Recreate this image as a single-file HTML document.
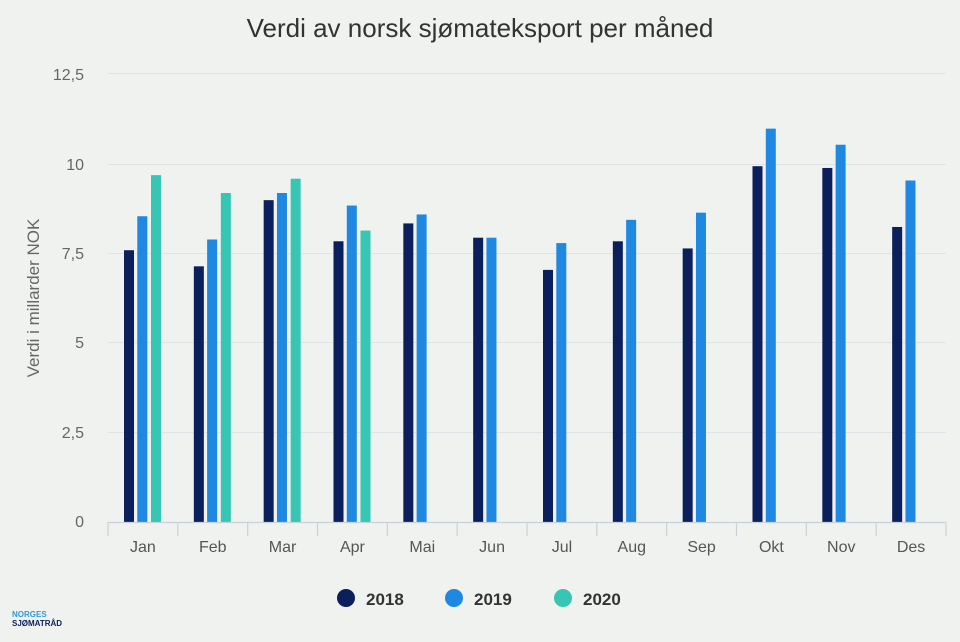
<!DOCTYPE html>
<html><head><meta charset="utf-8"><style>
html,body{margin:0;padding:0;background:#f0f2f0;}
svg{display:block;font-family:"Liberation Sans",Arial,sans-serif;}
</style></head><body>
<svg width="960" height="642" viewBox="0 0 960 642" xmlns="http://www.w3.org/2000/svg">
<rect width="960" height="642" fill="#f0f2f0"/>
<text x="480" y="37" text-anchor="middle" font-size="26" fill="#333">Verdi av norsk sjømateksport per måned</text>
<g stroke="#e0e3e3" stroke-width="1">
<line x1="108" x2="946" y1="73.5" y2="73.5"/>
<line x1="108" x2="946" y1="164.5" y2="164.5"/>
<line x1="108" x2="946" y1="253.5" y2="253.5"/>
<line x1="108" x2="946" y1="342.5" y2="342.5"/>
<line x1="108" x2="946" y1="432.5" y2="432.5"/>
</g>
<g font-size="16" fill="#666" text-anchor="end">
<text x="84" y="80">12,5</text>
<text x="84" y="170">10</text>
<text x="84" y="259">7,5</text>
<text x="84" y="348">5</text>
<text x="84" y="438">2,5</text>
<text x="84" y="527">0</text>
</g>
<text transform="translate(39,298) rotate(-90)" text-anchor="middle" font-size="17" fill="#666">Verdi i millarder NOK</text>
<g id="bars"></g>
<g stroke="#c8d0d8" stroke-width="1.2" id="axis">
<line x1="108" x2="946" y1="522.5" y2="522.5"/>
</g>
<g id="lbl" font-size="16" fill="#555" text-anchor="middle"></g>
<circle cx="346" cy="598" r="9" fill="#0b1f5c"/>
<text x="366" y="605" font-size="17" font-weight="bold" fill="#333">2018</text>
<circle cx="454" cy="598" r="9" fill="#1f88e2"/>
<text x="474" y="605" font-size="17" font-weight="bold" fill="#333">2019</text>
<circle cx="563" cy="598" r="9" fill="#36c6b3"/>
<text x="583" y="605" font-size="17" font-weight="bold" fill="#333">2020</text>
<text x="12" y="617" font-size="8" font-weight="bold" fill="#2f9ad8">NORGES</text>
<text x="12" y="626" font-size="8" font-weight="bold" fill="#0b1f5c">SJØMATRÅD</text>
<script>
var m=["Jan","Feb","Mar","Apr","Mai","Jun","Jul","Aug","Sep","Okt","Nov","Des"];
var d=[[7.6,8.55,9.7],[7.15,7.9,9.2],[9.0,9.2,9.6],[7.85,8.85,8.15],[8.35,8.6],[7.95,7.95],[7.05,7.8],[7.85,8.45],[7.65,8.65],[9.95,11.0],[9.9,10.55],[8.25,9.55]];
var c=["#0b1f5c","#1f88e2","#36c6b3"],off=[16,29.3,43];
var ns="http://www.w3.org/2000/svg",b=document.getElementById("bars"),a=document.getElementById("axis"),l=document.getElementById("lbl");
var w=838/12;
for(var i=0;i<12;i++){var g=108+i*w;
 d[i].forEach(function(v,j){var r=document.createElementNS(ns,"rect");var h=v*35.76;
  r.setAttribute("x",g+off[j]);r.setAttribute("y",522-h);r.setAttribute("width",10);r.setAttribute("height",h);r.setAttribute("fill",c[j]);b.appendChild(r);});
 var t=document.createElementNS(ns,"line");t.setAttribute("x1",g);t.setAttribute("x2",g);t.setAttribute("y1",522);t.setAttribute("y2",536);a.appendChild(t);
 var tx=document.createElementNS(ns,"text");tx.setAttribute("x",g+w/2);tx.setAttribute("y",552);tx.textContent=m[i];l.appendChild(tx);}
var t=document.createElementNS(ns,"line");t.setAttribute("x1",946);t.setAttribute("x2",946);t.setAttribute("y1",522);t.setAttribute("y2",536);a.appendChild(t);
</script>
</svg>
</body></html>
